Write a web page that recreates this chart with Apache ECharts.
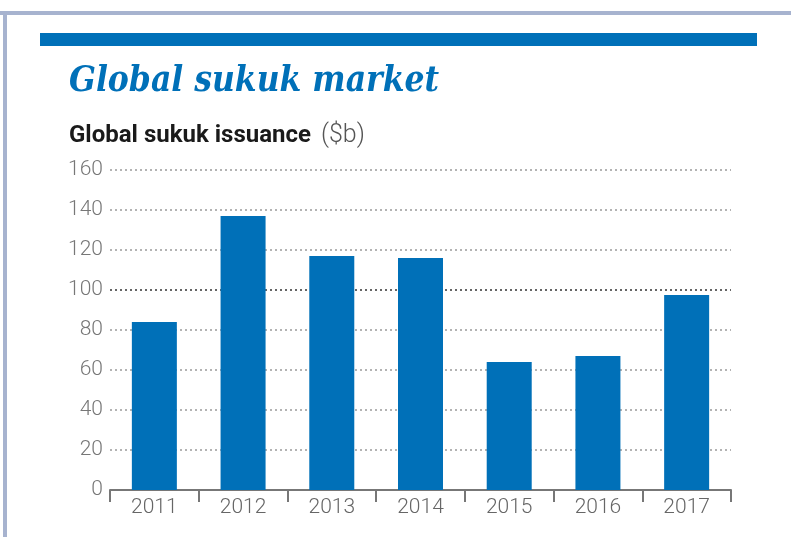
<!DOCTYPE html>
<html><head><meta charset="utf-8">
<script src="https://cdn.jsdelivr.net/npm/echarts@6/dist/echarts.min.js"></script>
<style>html,body{margin:0;padding:0;background:#fff}#c{width:791px;height:537px}</style>
</head><body><div id="c"></div>
<script>
const categories = ['2011','2012','2013','2014','2015','2016','2017'];
const issuance = [84, 137, 117, 116, 64, 67, 97.5];
const yTicks = [0, 20, 40, 60, 80, 100, 120, 140, 160];
const titleText = 'Global sukuk market';
const subtitleMain = 'Global sukuk issuance';
const subtitleUnit = '($b)';

const gridColors = yTicks.map(v => v === 100 ? '#333' : '#9a9a9a');

const chart = echarts.init(document.getElementById('c'), null, {renderer:'canvas'});
chart.setOption({
  animation:false,
  backgroundColor:'#fff',
  graphic:[
    {type:'rect', shape:{x:0,y:11,width:791,height:4}, style:{fill:'#a7b3cf'}},
    {type:'rect', shape:{x:3,y:11,width:4,height:526}, style:{fill:'#a7b3cf'}},
    {type:'rect', shape:{x:40,y:33,width:717,height:13}, style:{fill:'#0070b8'}}
  ],
  title:[
    {text:titleText, left:64, top:59, textStyle:{fontFamily:'DejaVu Serif Condensed', fontStyle:'italic', fontWeight:'bold', fontSize:35, color:'#0070b8'}},
    {text:'{a|'+subtitleMain+'}  {b|'+subtitleUnit+'}', left:64, top:118,
     textStyle:{rich:{a:{fontFamily:'Roboto',fontWeight:'bold',fontSize:24,color:'#1a1a1a'},b:{fontFamily:'Roboto',fontWeight:300,fontSize:25,color:'#555'}}}}
  ],
  grid:{left:110, right:60, top:170, bottom:47},
  xAxis:{type:'category', data:categories,
    axisLine:{lineStyle:{color:'#777', width:2}},
    axisTick:{show:true, length:12, lineStyle:{color:'#777', width:2}},
    axisLabel:{fontFamily:'Roboto', fontWeight:300, fontSize:21, color:'#666', margin:7}
  },
  yAxis:{type:'value', min:0, max:160, interval:20,
    axisLine:{show:false}, axisTick:{show:false},
    axisLabel:{fontFamily:'Roboto', fontWeight:300, fontSize:21, color:'#777', margin:7,
      formatter:v=>yTicks.includes(v)?String(v):''},
    splitLine:{lineStyle:{type:[2,3], color:gridColors, width:1.5}}
  },
  series:[{type:'bar', data:issuance, barWidth:45, itemStyle:{color:'#0070b8'}}]
});
</script></body></html>
